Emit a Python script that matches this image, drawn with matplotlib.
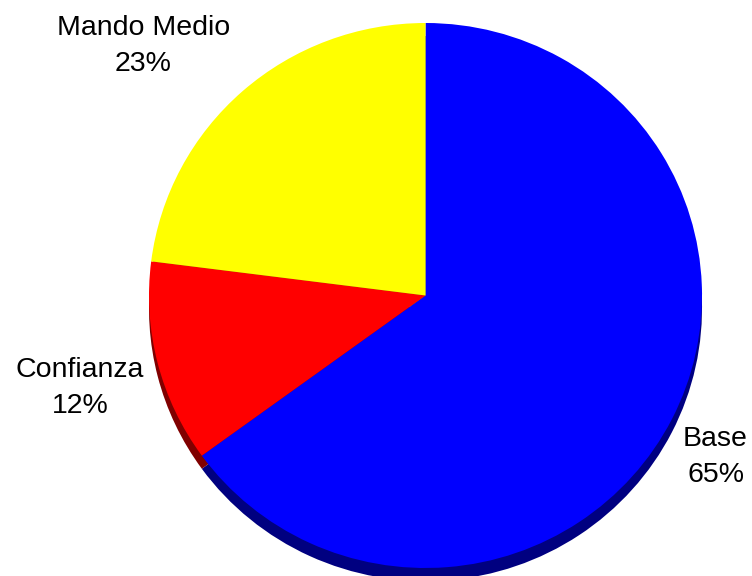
import matplotlib.pyplot as plt

plt.rcParams['font.family'] = ['Liberation Sans', 'DejaVu Sans']

# Distribución del personal por nivel
categorias = ["Base", "Confianza", "Mando Medio"]
porcentajes = [65, 12, 23]

COLORES_CARA = ["#0000FF", "#FF0000", "#FFFF00"]
COLORES_LADO = ["#000080", "#800000", "#808000"]

# posición de cada etiqueta (en radios del pastel)
POS_ETIQUETAS = {
    "Base": (1.049, -0.593),
    "Confianza": (-1.250, -0.338),
    "Mando Medio": (-1.020, 0.917),
}
GROSOR = 0.048  # espesor del canto del pastel

fig = plt.figure(figsize=(7.52, 5.76), dpi=100)
ax = fig.add_axes([0, 0, 1, 1])

# canto (desplazado hacia abajo) y luego la cara superior
ax.pie(porcentajes, colors=COLORES_LADO, startangle=90, counterclock=False,
       center=(0, -GROSOR), wedgeprops=dict(linewidth=0))
ax.pie(porcentajes, colors=COLORES_CARA, startangle=90, counterclock=False,
       wedgeprops=dict(linewidth=0))

for cat, pct in zip(categorias, porcentajes):
    x, y = POS_ETIQUETAS[cat]
    ax.text(x, y, f"{cat}\n{pct}%", ha="center", va="center",
            fontsize=20.5, linespacing=1.5, color="black")

ax.set_aspect("auto")
ax.set_xlim(-1.5389, 1.1808)
ax.set_ylim(-1.0294, 1.0844)
ax.axis("off")

fig.savefig("out.png", dpi=100, facecolor="white")
